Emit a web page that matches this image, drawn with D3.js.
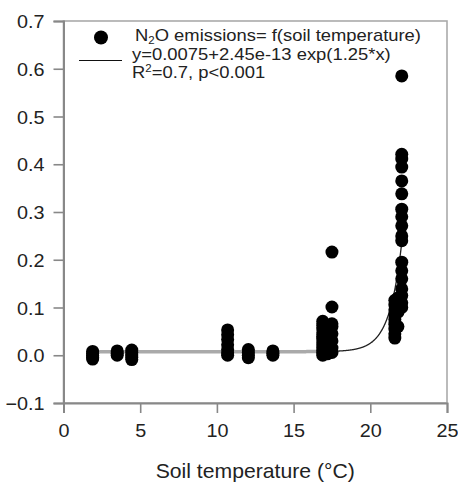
<!DOCTYPE html>
<html>
<head>
<meta charset="utf-8">
<script src="https://cdn.jsdelivr.net/npm/d3@7"></script>
<style>
  html, body { margin: 0; padding: 0; background: #fff; }
  svg { display: block; }
  text { font-family: "Liberation Sans", Arial, sans-serif; fill: #222; }
</style>
</head>
<body>
<svg id="chart" width="458" height="484"></svg>
<script>
// Soil temperature (°C) of each measurement
const soilTemp = [
  1.9, 1.9, 1.9, 1.9, 1.9,
  3.5, 3.5, 3.5,
  4.45, 4.45, 4.45, 4.45, 4.45,
  10.7, 10.7, 10.7, 10.7, 10.7, 10.7, 10.7,
  12.05, 12.05, 12.05, 12.05,
  13.65, 13.65, 13.65,
  16.9, 16.9, 16.9, 16.9, 16.9, 16.9, 16.9, 16.9, 16.9, 16.9, 16.9, 16.9,
  17.2, 17.2, 17.2, 17.2, 17.2,
  17.5, 17.5, 17.5, 17.5, 17.5, 17.5, 17.5, 17.5,
  21.6, 21.6, 21.6, 21.6, 21.6, 21.6, 21.6, 21.6, 21.6,
  21.8, 21.8, 21.8,
  22.05, 22.05, 22.05, 22.05, 22.05, 22.05, 22.05, 22.05, 22.05,
  22.05, 22.05, 22.05, 22.05, 22.05, 22.05, 22.05, 22.05, 22.05
];
// N2O emissions paired with soilTemp
const n2oFlux = [
  -0.008, -0.004, 0.0, 0.004, 0.008,
  0.0, 0.004, 0.009,
  -0.009, -0.004, 0.001, 0.006, 0.011,
  0.0, 0.005, 0.012, 0.022, 0.033, 0.043, 0.053,
  -0.005, 0.0, 0.006, 0.012,
  0.0, 0.004, 0.009,
  0.0, 0.005, 0.01, 0.016, 0.022, 0.028, 0.034, 0.04, 0.047, 0.055, 0.063, 0.071,
  0.003, 0.012, 0.025, 0.038, 0.05,
  0.006, 0.015, 0.03, 0.045, 0.06, 0.066, 0.101, 0.216,
  0.036, 0.045, 0.055, 0.065, 0.075, 0.085, 0.095, 0.105, 0.115,
  0.06, 0.09, 0.12,
  0.1, 0.11, 0.125, 0.139, 0.16, 0.177, 0.195, 0.24, 0.25,
  0.271, 0.29, 0.306, 0.338, 0.365, 0.394, 0.411, 0.421, 0.585
];

// Exponential fit y = a + b * exp(c * x)
const fitA = 0.0075, fitB = 2.45e-13, fitC = 1.25;
const fitRange = [1.8, 17.4, 22.2];   // start, colour change, end

const xTicks = [0, 5, 10, 15, 20, 25];
const yTicks = [-0.1, 0.0, 0.1, 0.2, 0.3, 0.4, 0.5, 0.6, 0.7];

const legendLines = ["N2O emissions= f(soil temperature)", "y=0.0075+2.45e-13 exp(1.25*x)", "R2=0.7, p<0.001"];
const xTitle = "Soil temperature (°C)";

const svg = d3.select("#chart");
const x = d3.scaleLinear().domain([0, 25]).range([63.5, 447]);
const y = d3.scaleLinear().domain([-0.1, 0.7]).range([403, 21]);

// horizontally widened text
function wideText(g, tx, ty, str, size, sx, anchor) {
  return g.append("text")
    .attr("transform", `translate(${tx},${ty}) scale(${sx},1)`)
    .attr("text-anchor", anchor || "start")
    .style("font-size", size + "px")
    .text(str);
}

// frame
svg.append("rect")
  .attr("x", x(0)).attr("y", y(0.7))
  .attr("width", x(25) - x(0)).attr("height", y(-0.1) - y(0.7))
  .attr("fill", "none").attr("stroke", "#aaa").attr("stroke-width", 1.6);

// axes
const yAxis = svg.append("g")
  .attr("transform", `translate(${x(0)},0)`)
  .call(d3.axisLeft(y).tickValues(yTicks).tickSize(10).tickFormat(d3.format(".1f")));
const xAxis = svg.append("g")
  .attr("transform", `translate(0,${y(-0.1)})`)
  .call(d3.axisBottom(x).tickValues(xTicks).tickSize(10).tickFormat(d3.format("d")));

[yAxis, xAxis].forEach(ax => {
  ax.select(".domain").attr("stroke", "#888").attr("stroke-width", 2);
  ax.selectAll(".tick line").attr("stroke", "#888").attr("stroke-width", 1.6);
  ax.selectAll(".tick text").remove();
});
yAxis.selectAll(".tick").each(function(d) {
  wideText(d3.select(this), -19, 6.5, d3.format(".1f")(d), 18, 1.1, "end").attr("fill", "#222");
});
xAxis.selectAll(".tick").each(function(d) {
  wideText(d3.select(this), 0, 34, d3.format("d")(d), 18, 1.1, "middle").attr("fill", "#222");
});

// axis title
wideText(svg, (x(0) + x(25)) / 2, 478, xTitle, 20, 1.06, "middle");

// fitted curve
const fitFn = t => fitA + fitB * Math.exp(fitC * t);
const line = d3.line().x(t => x(t)).y(t => y(fitFn(t)));
const flatPart = d3.range(fitRange[0], fitRange[1] + 0.001, 0.05);
const risePart = d3.range(fitRange[1], fitRange[2] + 0.001, 0.02);
svg.append("path").attr("d", line(flatPart))
  .attr("fill", "none").attr("stroke", "#aaa").attr("stroke-width", 3.5);
svg.append("path").attr("d", line(risePart))
  .attr("fill", "none").attr("stroke", "#222").attr("stroke-width", 1.3);

// observations
svg.append("g").selectAll("circle")
  .data(d3.range(soilTemp.length))
  .join("circle")
  .attr("cx", i => x(soilTemp[i]))
  .attr("cy", i => y(n2oFlux[i]))
  .attr("r", 6.5)
  .attr("fill", "#000");

// legend
const lg = svg.append("g");
lg.append("circle").attr("cx", 101).attr("cy", 37.5).attr("r", 7).attr("fill", "#000");
lg.append("line").attr("x1", 79).attr("x2", 122).attr("y1", 60.5).attr("y2", 60.5)
  .attr("stroke", "#111").attr("stroke-width", 1);

const t1 = lg.append("text")
  .attr("transform", "translate(135,41) scale(1.15,1)")
  .style("font-size", "16px");
t1.append("tspan").text("N");
t1.append("tspan").attr("dy", 3).style("font-size", "10px").text("2");
t1.append("tspan").attr("dy", -3).text("O emissions= f(soil temperature)");

wideText(lg, 132, 60, legendLines[1], 16, 1.15);

const t3 = lg.append("text")
  .attr("transform", "translate(132,78) scale(1.15,1)")
  .style("font-size", "16px");
t3.append("tspan").text("R");
t3.append("tspan").attr("dy", -6).style("font-size", "10px").text("2");
t3.append("tspan").attr("dy", 6).text("=0.7, p<0.001");
</script>
</body>
</html>
